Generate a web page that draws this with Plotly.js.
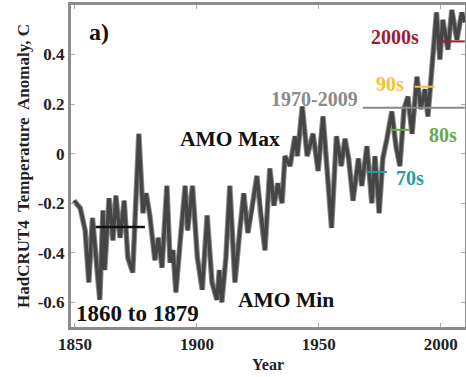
<!DOCTYPE html>
<html>
<head>
<meta charset="utf-8">
<script src="https://cdn.plot.ly/plotly-3.0.1.min.js"></script>
<style>html,body{margin:0;padding:0;background:#fff;}#chart{width:466px;height:377px;}</style>
</head>
<body>
<div id="chart"></div>
<script>
// HadCRUT4 temperature anomaly
const years = [1849.6,1852.2,1854.2,1855.7,1857.2,1859.2,1860.2,1861.5,1862.2,1864.0,1865.6,1866.8,1868.5,1870.2,1871.7,1873.7,1875.2,1876.2,1877.9,1879.2,1880.7,1882.8,1884.2,1885.7,1887.7,1889.0,1890.2,1891.4,1893.1,1895.2,
1896.2,1898.2,1900.2,1902.2,1904.2,1906.2,1908.2,1909.2,1910.2,1911.9,1913.5,1915.6,1917.6,1919.2,1920.9,1922.5,1924.6,1926.2,1927.9,1929.9,1931.6,1933.2,1934.9,1936.1,1938.2,1940.2,1941.2,1943.2,
1945.2,1947.6,1949.7,1951.7,1953.7,1955.2,1957.2,1959.2,1960.7,1962.2,1964.0,1966.2,1967.6,1969.7,1971.7,1973.0,1974.7,1976.2,1977.9,1979.9,1981.6,1983.2,1984.9,1986.5,1988.2,1990.2,1991.8,1993.5,1994.7,1996.7,1998.2,1999.6,2000.8,2002.9,2004.5,2006.6,2008.6,2009.8];
const anomaly = [-0.19,-0.22,-0.31,-0.52,-0.26,-0.50,-0.59,-0.23,-0.47,-0.18,-0.35,-0.17,-0.34,-0.19,-0.42,-0.48,-0.17,0.08,-0.24,-0.16,-0.25,-0.43,-0.34,-0.46,-0.13,-0.44,-0.39,-0.56,-0.36,-0.13,
-0.31,-0.13,-0.42,-0.55,-0.25,-0.52,-0.59,-0.47,-0.60,-0.42,-0.13,-0.52,-0.31,-0.16,-0.32,-0.23,-0.09,-0.25,-0.39,-0.06,-0.21,-0.12,-0.20,-0.01,-0.05,0.07,-0.01,0.19,
-0.01,0.08,-0.07,0.15,-0.13,-0.30,0.07,-0.05,0.06,-0.02,-0.19,-0.02,-0.13,0.03,-0.20,-0.01,-0.24,-0.02,0.06,0.17,0.03,-0.05,0.18,0.23,0.08,0.31,0.18,0.26,0.15,0.41,0.57,0.38,0.54,0.42,0.58,0.46,0.57,0.53];

// Period means (horizontal markers)
const periodLabels = ["1860 to 1879","70s","80s","90s","2000s","1970-2009"];
const periodStart = [1858.5,1969.7,1979.1,1989.3,2000.0,1968.0];
const periodEnd   = [1878.7,1977.9,1987.3,1997.5,2009.8,2009.8];
const periodMean  = [-0.296,-0.074,0.096,0.27,0.453,0.185];
const periodColors = ["#111111","#2a9b9e","#6aaa4a","#f2c33c","#9e1c34","#8a8a8a"];

const traces = [{
  x: years, y: anomaly, type: 'scatter', mode: 'lines',
  line: {color: '#8a8a8a', width: 5.5}, hoverinfo: 'skip'
}, {
  x: years, y: anomaly, type: 'scatter', mode: 'lines',
  line: {color: '#454545', width: 3.5}, hoverinfo: 'skip'
}];
for (let i = 0; i < periodLabels.length; i++) {
  traces.push({
    x: [periodStart[i], periodEnd[i]], y: [periodMean[i], periodMean[i]],
    type: 'scatter', mode: 'lines',
    line: {color: periodColors[i], width: i === 0 ? 2.5 : 2}, hoverinfo: 'skip'
  });
}

const serif = 'Liberation Serif, Times New Roman, serif';
function ann(text, x, y, size, color) {
  return {text: text, x: x, y: y, xref: 'x', yref: 'y', showarrow: false,
    xanchor: 'center', yanchor: 'middle',
    font: {family: serif, size: size, color: color, weight: 'bold'}};
}

const layout = {
  width: 466, height: 377,
  margin: {l: 71, r: 1, t: 5, b: 50},
  showlegend: false,
  paper_bgcolor: '#fff', plot_bgcolor: '#fff',
  font: {family: serif, size: 17, color: '#222', weight: 'bold'},
  xaxis: {
    range: [1848.4, 2009.9], tickvals: [1850, 1900, 1950, 2000],
    ticks: 'inside', ticklen: 4, tickcolor: '#aaa', mirror: 'ticks',
    showline: true, linecolor: '#8c8c8c', linewidth: 3, showgrid: false, zeroline: false,
    tickfont: {family: serif, size: 17, color: '#222', weight: 'bold'},
    title: {text: 'Year', font: {family: serif, size: 16, color: '#222', weight: 'bold'}, standoff: 6}
  },
  yaxis: {
    range: [-0.70, 0.60], tickvals: [-0.6, -0.4, -0.2, 0, 0.2, 0.4],
    ticktext: ['-0.6', '-0.4', '-0.2', '0', '0.2', '0.4'],
    ticks: 'inside', ticklen: 4, tickcolor: '#aaa', mirror: 'ticks',
    showline: true, linecolor: '#8c8c8c', linewidth: 3, showgrid: false, zeroline: false,
    tickfont: {family: serif, size: 17, color: '#222', weight: 'bold'},
    title: {text: 'HadCRUT4  Temperature  Anomaly, C', font: {family: serif, size: 17, color: '#222', weight: 'bold'}, standoff: 4}
  },
  annotations: [
    ann('a)', 1859.8, 0.49, 24, '#111'),
    ann('AMO Max', 1913.5, 0.06, 21.5, '#111'),
    ann('AMO Min', 1936.5, -0.59, 21.5, '#111'),
    ann('1860 to 1879', 1875.8, -0.645, 23, '#111'),
    ann('2000s', 1981.1, 0.47, 20, '#9e1c34'),
    ann('90s', 1979.1, 0.28, 20, '#f2c33c'),
    ann('1970-2009', 1948.4, 0.22, 20, '#8a8a8a'),
    ann('80s', 2000.8, 0.076, 20, '#6aaa4a'),
    ann('70s', 1987.3, -0.098, 20, '#2a9b9e')
  ]
};

Plotly.newPlot('chart', traces, layout, {displayModeBar: false, staticPlot: true});
</script>
</body>
</html>
